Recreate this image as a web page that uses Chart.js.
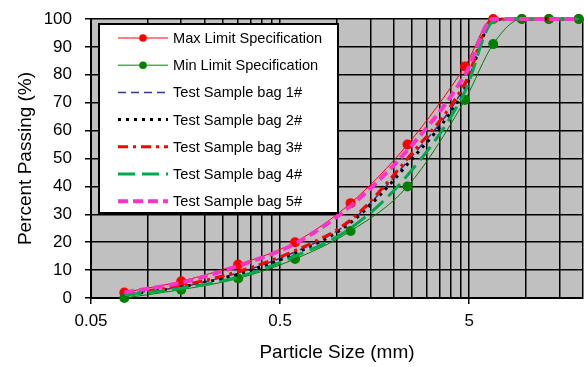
<!DOCTYPE html>
<html>
<head>
<meta charset="utf-8">
<script src="https://cdn.jsdelivr.net/npm/chart.js@4.4.1/dist/chart.umd.min.js"></script>
<style>
  html, body { margin: 0; padding: 0; background: #fff; }
  #wrap { width: 584px; height: 367px; }
</style>
</head>
<body>
<div id="wrap"><canvas id="grading" width="584" height="367"></canvas></div>
<script>
// Sieve sizes (mm) and percent passing
const sieveSizes = [0.075, 0.15, 0.3, 0.6, 1.18, 2.36, 4.75, 6.7, 9.5, 13.2, 19];
const maxLimit = [2, 6, 12, 20, 34, 55, 83, 100, 100, 100, 100];
const minLimit = [0, 3, 7, 14, 24, 40, 71, 91, 100, 100, 100];
const bag1 = [1.5, 4, 9, 16.5, 27.5, 49, 76, 99.5, 100, 100, 100];
const bag2 = [1, 4, 8.5, 16, 27, 48, 75, 99.5, 100, 100, 100];
const bag3 = [1.5, 4.5, 9.5, 17, 28, 50, 77, 100, 100, 100, 100];
const bag4 = [1, 3.5, 7.5, 15, 25, 44, 74, 99, 100, 100, 100];
const bag5 = [2, 5.5, 11.5, 19.5, 33, 53, 80, 100, 100, 100, 100];

const xTickLabels = [0.05, 0.5, 5];
const xMax = 20;
const yTicks = [0, 10, 20, 30, 40, 50, 60, 70, 80, 90, 100];

const FONT = 'Arial, "Liberation Sans", sans-serif';
Chart.defaults.font.family = FONT;
Chart.defaults.color = '#000';

// minor gridlines like Excel: multiples of each major value
const xGrid = [];
xTickLabels.forEach(m => {
    for (let k = 1; k <= 9; k++) {
        const v = m * k;
        if (v <= xMax + 1e-9) xGrid.push(v);
    }
});

const isMajor = v => xTickLabels.some(m => Math.abs(m - v) < 1e-9);

function series(label, values, style) {
    return Object.assign({
        label: label,
        data: sieveSizes.map((s, i) => ({ x: s, y: values[i] })),
        fill: false,
        pointRadius: 0,
        cubicInterpolationMode: 'monotone',
        clip: false
    }, style);
}

const datasets = [
    series('Max Limit Specification', maxLimit, {
        borderColor: '#ff0000', backgroundColor: '#ff0000', borderWidth: 1,
        pointRadius: 5, pointBorderWidth: 0, order: 7
    }),
    series('Min Limit Specification', minLimit, {
        borderColor: '#008000', backgroundColor: '#008000', borderWidth: 1,
        pointRadius: 5, pointBorderWidth: 0, order: 6
    }),
    series('Test Sample bag 1#', bag1, {
        borderColor: '#333399', borderWidth: 1.5, borderDash: [8, 5], order: 5
    }),
    series('Test Sample bag 2#', bag2, {
        borderColor: '#000000', borderWidth: 3, borderDash: [3, 5], order: 4
    }),
    series('Test Sample bag 3#', bag3, {
        borderColor: '#ff0000', borderWidth: 3, borderDash: [10, 5, 3, 5], order: 3
    }),
    series('Test Sample bag 4#', bag4, {
        borderColor: '#00a850', borderWidth: 3, borderDash: [17, 7], order: 2
    }),
    series('Test Sample bag 5#', bag5, {
        borderColor: '#ff33cc', borderWidth: 4, borderDash: [10, 5], order: 1
    })
];

// grey plot area
const plotBackground = {
    id: 'plotBackground',
    beforeDraw(chart) {
        const { ctx, chartArea: a } = chart;
        ctx.save();
        ctx.fillStyle = '#c0c0c0';
        ctx.fillRect(a.left, a.top, a.right - a.left, a.bottom - a.top);
        ctx.restore();
    }
};

// boxed legend sitting inside the plot, like the original
const boxLegend = {
    id: 'boxLegend',
    afterDraw(chart) {
        const ctx = chart.ctx;
        const box = { x: 99, y: 24, w: 239, h: 189 };
        ctx.save();
        ctx.fillStyle = '#fff';
        ctx.fillRect(box.x, box.y, box.w, box.h);
        ctx.strokeStyle = '#000';
        ctx.lineWidth = 2;
        ctx.strokeRect(box.x, box.y, box.w, box.h);

        const rowH = 27.2;
        chart.data.datasets.forEach((ds, i) => {
            const y = 38 + i * rowH;
            ctx.save();
            ctx.strokeStyle = ds.borderColor;
            ctx.lineWidth = ds.borderWidth;
            ctx.setLineDash(ds.borderDash || []);
            ctx.beginPath();
            ctx.moveTo(118, y);
            ctx.lineTo(168, y);
            ctx.stroke();
            if (ds.pointRadius) {
                ctx.setLineDash([]);
                ctx.fillStyle = ds.backgroundColor;
                ctx.beginPath();
                ctx.arc(143, y, 3.8, 0, Math.PI * 2);
                ctx.fill();
            }
            ctx.restore();
            ctx.fillStyle = '#000';
            ctx.font = '14.6px ' + FONT;
            ctx.textBaseline = 'middle';
            ctx.fillText(ds.label, 173, y + 1);
        });
        ctx.restore();
    }
};

const chart = new Chart(document.getElementById('grading'), {
    type: 'line',
    data: { datasets: datasets },
    plugins: [plotBackground, boxLegend],
    options: {
        responsive: false,
        animation: false,
        layout: { autoPadding: false, padding: { top: 19, right: 1, left: 0, bottom: 0 } },
        plugins: {
            legend: { display: false },
            tooltip: { enabled: false }
        },
        scales: {
            x: {
                type: 'logarithmic',
                min: xTickLabels[0],
                max: xMax,
                afterBuildTicks(scale) {
                    scale.ticks = xGrid.map(v => ({ value: v }));
                },
                afterFit(scale) {
                    scale.height = 69;
                    scale.paddingLeft = 0;
                    scale.paddingRight = 0;
                },
                ticks: {
                    autoSkip: false,
                    maxRotation: 0,
                    padding: 7,
                    font: { size: 17 },
                    callback: v => isMajor(v) ? String(v) : ''
                },
                grid: {
                    color: '#000',
                    lineWidth: 1.5,
                    tickLength: 6,
                    tickColor: c => (c.tick && isMajor(c.tick.value)) ? '#000' : 'rgba(0,0,0,0)'
                },
                border: { color: '#000', width: 2 },
                title: {
                    display: true,
                    text: 'Particle Size (mm)',
                    font: { size: 19 },
                    padding: { top: 0, bottom: 3 }
                }
            },
            y: {
                min: yTicks[0],
                max: yTicks[yTicks.length - 1],
                afterBuildTicks(scale) {
                    scale.ticks = yTicks.map(v => ({ value: v }));
                },
                afterFit(scale) {
                    scale.width = 91;
                    scale.paddingTop = 0;
                    scale.paddingBottom = 0;
                },
                ticks: {
                    padding: 13,
                    font: { size: 17 }
                },
                grid: {
                    color: '#000',
                    lineWidth: 1.5,
                    tickLength: 6,
                    tickColor: '#000'
                },
                border: { color: '#000', width: 2 },
                title: {
                    display: true,
                    text: 'Percent Passing (%)',
                    font: { size: 19 },
                    padding: { top: 14, bottom: 0 }
                }
            }
        }
    }
});
</script>
</body>
</html>
